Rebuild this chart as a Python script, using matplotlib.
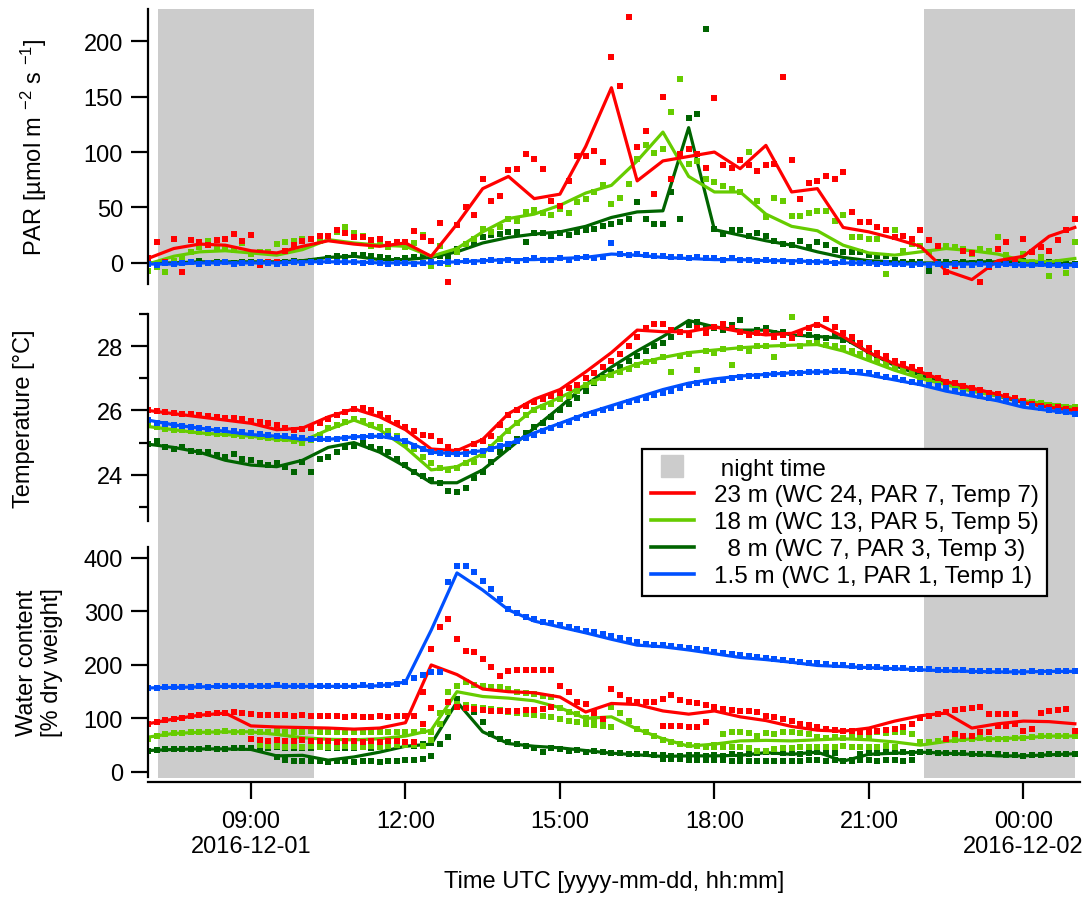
import numpy as np
import pandas as pd
import matplotlib
matplotlib.use("Agg")
import matplotlib.pyplot as plt
from matplotlib.lines import Line2D

plt.rcParams['font.family'] = ['Liberation Sans', 'DejaVu Sans']
plt.rcParams['mathtext.default'] = 'regular'

# ---- time bases: 10-min samples (dots) and 30-min means (lines)
t_pts = pd.date_range("2016-12-01 07:00", "2016-12-02 01:00", freq="10min")
t_line = pd.date_range("2016-12-01 07:00", "2016-12-02 01:00", freq="30min")

night_start = ["2016-12-01 07:12", "2016-12-01 22:04"]
night_end = ["2016-12-01 10:14", "2016-12-02 01:00"]

tick_times = ["2016-12-01 09:00", "2016-12-01 12:00", "2016-12-01 15:00",
              "2016-12-01 18:00", "2016-12-01 21:00", "2016-12-02 00:00"]
tick_labels = ["09:00\n2016-12-01", "12:00", "15:00", "18:00", "21:00", "00:00\n2016-12-02"]

labels = ["23 m (WC 24, PAR 7, Temp 7)", "18 m (WC 13, PAR 5, Temp 5)",
          "  8 m (WC 7, PAR 3, Temp 3)", "1.5 m (WC 1, PAR 1, Temp 1)"]
colors = ["#ff0000", "#66cc00", "#006400", "#0050ff"]

# ---- PAR [umol m-2 s-1]
par_red_pts = [4, 19, 1, 22, -8, 21,  19, 16, 21, 22, 26, 20,  25, -2, 1, 1, 11, 16,
               20, 22, 24, 24, 30, 27,  23, 23, 21, 22, 17, 19,  19, 29, 23, 20, 36, -17,
               34, 50, 43, 76, 56, 60,  84, 85, 98, 94, 85, 56,  51, 74, 96, 96, 101, 91,
               186, 160, 222, 105, 119, 62,  150, 76, 98, 103, 98, 86,  149, 88, 86, 93, 88, 83,
               88, 89, 168, 93, 58, 72,  74, 78, 76, 82, 46, 37,  37, 32, 30, 23, 24, 22,
               30, 21, 15, -8, -3, 11,  9, -17, -4, 13, 19, 1,  22, 10, 14, 11, 21, 30,  40]
par_lgreen_pts = [-7, -4, -8, 2, 5, 10,  14, 20, 13, 14, 12, 18,  8, 10, 10, 17, 19, 20,
                  22, 22, 20, 24, 28, 32,  27, 24, 15, 20, 14, 19,  14, 18, 25, -3, 15, -1,
                  10, 17, 22, 31, 28, 32,  40, 38, 46, 48, 45, 43,  49, 45, 55, 58, 64, 70,
                  53, 59, 71, 94, 106, 99,  103, 136, 166, 89, 92, 76,  73, 69, 67, 64, 100, 56,
                  41, 59, 56, 42, 42, 45,  47, 47, 38, 43, 23, 23,  22, 22, -10, 30, 11, 17,
                  15, 10, 14, 15, 14, 13,  8, 13, 11, 23, 7, 1,  8, 1, 5, -12, 1, -9,  19]
par_dgreen_pts = [0, -1, 1, 0, 1, 1,  2, 0, 1, 1, 0, 1,  1, 0, 0, 1, 1, 2,
                  1, 2, 3, 4, 6, 5,  7, 7, 6, 5, 4, 3,  4, 5, 6, 1, 6, 6,
                  13, 17, 18, 23, 25, 26,  28, 28, 19, 27, 27, 24,  27, 25, 28, 30, 31, 33,
                  35, 37, 40, 55, 40, 35,  35, 64, 40, 131, 134, 211,  31, 26, 30, 30, 24, 27,
                  24, 20, 17, 16, 20, 14,  19, 16, 12, 10, 10, 10,  7, 6, 6, 3, 1, 1,
                  1, -7, 1, 1, 0, 1,  0, 1, 1, 0, 1, 1,  2, 1, 0, 1, 0, 0,  -1]
par_blue_pts = [-1, -2, 0, -1, 0, 1,  -1, 0, 0, 1, -1, 0,  0, 1, 0, -1, 0, 1,
                0, 1, 1, 2, 1, 1,  1, 0, 1, 0, -1, 0,  0, -1, 0, 1, 0, 1,
                1, 2, 1, 2, 3, 2,  3, 2, 3, 4, 3, 3,  4, 3, 4, 5, 4, 5,
                18, 8, 7, 8, 7, 6,  6, 5, 5, 4, 5, 4,  4, 3, 4, 3, 3, 2,
                3, 2, 2, 1, 2, 1,  1, 1, 0, 1, 0, 0,  0, -1, 0, -1, -1, -2,
                -1, -2, -1, -2, -1, -2,  -2, -1, -2, -2, -1, -2,  -2, -2, -1, -2, -2, -3,  -2]

par_red_line = [4, 13, 17, 16, 11, 9, 15, 20, 17, 15, 18, 6, 35, 67, 78, 58, 62, 105,
                158, 74, 92, 96, 100, 85, 106, 64, 67, 32, 28, 22, 15, -7, -15, 2, 6, 24, 32]
par_lgreen_line = [-1, 6, 10, 11, 9, 7, 12, 21, 18, 16, 15, 6, 13, 28, 40, 44, 52, 63,
                   70, 92, 118, 78, 64, 64, 44, 33, 29, 16, 9, 7, 10, 13, 11, 8, 2, 1, 4]
par_dgreen_line = [0, 0, 1, 1, 1, 1, 2, 5, 6, 3, 3, 5, 10, 18, 23, 26, 28, 33,
                   41, 46, 47, 122, 30, 25, 20, 16, 10, 5, 2, 1, 0, 0, 1, 1, 1, 0, -1]
par_blue_line = [-1, -1, 0, 0, 0, 0, 1, 1, 1, 0, 0, 0, 1, 2, 3, 3, 4, 5,
                 8, 7, 5, 4, 3, 3, 2, 2, 1, 0, 0, -1, -1, -1, -1, -1, -2, -2, -2]

# ---- Temperature [degC]
tmp_red_pts = [26.02, 25.98, 25.95, 25.93, 25.90, 25.88,  25.85, 25.82, 25.80, 25.78, 25.75, 25.72,
               25.68, 25.65, 25.60, 25.55, 25.45, 25.40,  25.42, 25.45, 25.60, 25.72, 25.85, 25.95,
               26.05, 26.08, 26.00, 25.90, 25.75, 25.62,  25.50, 25.35, 25.25, 25.20, 25.05, 24.85,
               24.75, 24.70, 24.95, 25.05, 25.20, 25.55,  25.85, 26.00, 26.15, 26.25, 26.35, 26.45,
               26.55, 26.70, 26.80, 27.00, 27.15, 27.35,  27.55, 27.75, 28.00, 28.30, 28.55, 28.70,
               28.70, 28.50, 28.45, 28.35, 28.55, 28.40,  28.60, 28.70, 28.55, 28.45, 28.35, 28.40,
               28.45, 28.30, 28.35, 28.25, 28.40, 28.55,  28.65, 28.85, 28.60, 28.40, 28.30, 28.10,
               27.95, 27.80, 27.70, 27.55, 27.45, 27.35,  27.25, 27.10, 27.00, 26.90, 26.85, 26.75,
               26.70, 26.65, 26.55, 26.50, 26.45, 26.40,  26.30, 26.20, 26.15, 26.12, 26.10, 26.05,  26.02]
tmp_lgreen_pts = [25.55, 25.48, 25.42, 25.40, 25.38, 25.35,  25.33, 25.30, 25.28, 25.26, 25.25, 25.22,
                  25.20, 25.18, 25.15, 25.12, 25.10, 25.05,  25.00, 25.08, 25.25, 25.45, 25.55, 25.65,
                  25.72, 25.68, 25.55, 25.50, 25.35, 25.20,  24.95, 24.80, 24.55, 24.35, 24.20, 24.15,
                  24.20, 24.35, 24.40, 24.60, 24.85, 25.10,  25.35, 25.60, 25.85, 26.00, 26.10, 26.20,
                  26.35, 26.45, 26.60, 26.80, 26.90, 27.00,  27.10, 27.20, 27.30, 27.40, 27.50, 27.55,
                  27.65, 27.20, 27.70, 27.75, 27.25, 27.85,  27.80, 27.90, 27.40, 27.95, 27.85, 28.00,
                  28.00, 27.65, 28.05, 28.90, 28.00, 28.10,  28.10, 28.05, 28.00, 27.95, 27.85, 27.75,
                  27.65, 27.55, 27.45, 27.35, 27.25, 27.15,  27.05, 26.95, 26.90, 26.80, 26.75, 26.70,
                  26.62, 26.55, 26.50, 26.45, 26.40, 26.35,  26.30, 26.25, 26.22, 26.18, 26.15, 26.12,  26.10]
tmp_dgreen_pts = [24.95, 25.05, 24.85, 24.80, 24.85, 24.75,  24.70, 24.70, 24.60, 24.55, 24.65, 24.50,
                  24.45, 24.35, 24.30, 24.35, 24.25, 24.10,  24.40, 24.10, 24.50, 24.55, 24.70, 24.85,
                  24.90, 25.00, 24.85, 24.80, 24.70, 24.50,  24.30, 24.10, 23.95, 23.85, 23.75, 23.50,
                  23.45, 23.60, 23.90, 24.10, 24.40, 24.70,  24.85, 25.10, 25.30, 25.50, 25.60, 25.80,
                  26.00, 26.20, 26.40, 26.60, 26.85, 27.05,  27.20, 27.35, 27.55, 27.70, 27.85, 28.00,
                  28.10, 28.30, 28.45, 28.65, 28.75, 28.60,  28.55, 28.50, 28.65, 28.80, 28.45, 28.50,
                  28.55, 28.40, 28.45, 28.30, 28.40, 28.35,  28.30, 28.25, 28.35, 28.20, 28.15, 28.05,
                  27.85, 27.70, 27.55, 27.45, 27.30, 27.20,  27.10, 27.00, 26.95, 26.85, 26.80, 26.75,
                  26.68, 26.62, 26.55, 26.50, 26.45, 26.38,  26.30, 26.25, 26.18, 26.12, 26.08, 26.05,  26.02]
tmp_blue_pts = [25.70, 25.62, 25.58, 25.55, 25.52, 25.48,  25.45, 25.42, 25.40, 25.38, 25.35, 25.32,
                25.30, 25.27, 25.25, 25.22, 25.20, 25.18,  25.15, 25.12, 25.10, 25.10, 25.12, 25.14,
                25.16, 25.18, 25.20, 25.22, 25.20, 25.15,  25.05, 24.90, 24.80, 24.72, 24.68, 24.66,
                24.65, 24.66, 24.70, 24.75, 24.80, 24.88,  24.95, 25.05, 25.15, 25.25, 25.35, 25.45,
                25.55, 25.65, 25.75, 25.85, 25.92, 26.00,  26.08, 26.15, 26.25, 26.32, 26.40, 26.48,
                26.55, 26.62, 26.70, 26.78, 26.84, 26.88,  26.92, 26.96, 27.00, 27.04, 27.06, 27.08,
                27.10, 27.12, 27.14, 27.16, 27.18, 27.19,  27.20, 27.21, 27.22, 27.22, 27.21, 27.20,
                27.15, 27.10, 27.05, 27.00, 26.95, 26.90,  26.85, 26.80, 26.75, 26.70, 26.62, 26.55,
                26.50, 26.45, 26.40, 26.35, 26.30, 26.25,  26.20, 26.15, 26.08, 26.02, 25.98, 25.95,  25.90]

tmp_red_line = [26.0, 25.9, 25.8, 25.7, 25.6, 25.4, 25.45, 25.8, 26.05, 25.8, 25.4, 24.8,
                24.75, 25.1, 25.9, 26.35, 26.65, 27.2, 27.8, 28.5, 28.45, 28.45, 28.6, 28.45,
                28.35, 28.4, 28.7, 28.3, 27.8, 27.45, 27.2, 26.9, 26.7, 26.5, 26.25, 26.1, 26.0]
tmp_lgreen_line = [25.5, 25.4, 25.3, 25.25, 25.2, 25.1, 25.05, 25.4, 25.7, 25.4, 24.85, 24.15,
                   24.25, 24.65, 25.4, 26.05, 26.4, 26.8, 27.15, 27.45, 27.65, 27.8, 27.88, 27.95,
                   28.0, 28.03, 28.05, 27.85, 27.55, 27.25, 27.0, 26.8, 26.6, 26.45, 26.3, 26.2, 26.1]
tmp_dgreen_line = [24.95, 24.85, 24.7, 24.45, 24.3, 24.25, 24.45, 24.85, 25.0, 24.7, 24.25, 23.75,
                   23.75, 24.15, 24.8, 25.45, 26.1, 26.8, 27.35, 27.85, 28.3, 28.8, 28.6, 28.5,
                   28.5, 28.35, 28.3, 28.25, 27.8, 27.4, 27.1, 26.85, 26.65, 26.45, 26.25, 26.1, 26.0]
tmp_blue_line = [25.7, 25.55, 25.45, 25.35, 25.25, 25.2, 25.1, 25.1, 25.18, 25.2, 25.05, 24.7,
                 24.65, 24.75, 24.95, 25.3, 25.6, 25.9, 26.15, 26.4, 26.65, 26.85, 26.98, 27.07,
                 27.12, 27.17, 27.2, 27.2, 27.1, 26.95, 26.8, 26.6, 26.45, 26.3, 26.1, 26.0, 25.9]

# ---- Water content [% dry weight]; two dot bands where the sensors diverge
N = None
wc_red_pts = [90, 94, 97, 99, 101, 104,  106, 108, 110, 111, 112, 110,  108, 107, 106, 107, 106, 105,
              106, 105, 104, 105, 104, 103,  104, 103, 103, 104, 103, 104,  105, 104, 150, 230, 270, 286,
              249, 226, 224, 211, 196, 180,  189, 190, 190, 191, 190, 191,  161, 150, 131, 127, 110, 99,
              155, 143, 135, 131, 131, 131,  137, 143, 135, 131, 128, 125,  122, 118, 116, 114, 114, 112,
              105, 102, 99, 95, 90, 88,  84, 80, 78, 77, 76, 75,  75, 76, 78, 80, 84, 90,
              100, 105, 108, 112, 115, 118,  120, 121, 108, 108, 108, 108,  77, 80, 110, 114, 116, 118,  77]
wc_red_pts2 = [N, N, N, N, N, N,  N, N, N, N, N, N,  62, 60, 58, 60, 58, 57,
               60, 58, 57, 58, 56, 58,  57, 55, 58, 56, 57, 58,  56, 56, 90, 120, N, 131,
               122, 120, 118, 116, 114, 114,  114, 113, 115, 116, 118, 121,  N, N, N, N, N, N,
               N, N, N, N, N, N,  86, 86, 85, 84, 84, 93,  N, N, N, N, N, N,
               N, N, N, N, N, N,  N, N, N, N, N, N,  N, N, N, N, N, N,
               N, N, N, 62, 71, 67,  67, 75, 75, 86, 86, 90,  N, N, N, N, N, N,  N]
wc_lgreen_pts = [62, 68, 70, 72, 73, 74,  74, 75, 75, 76, 75, 75,  75, 74, 75, 76, 75, 75,
                 75, 76, 75, 74, 75, 75,  74, 75, 75, 74, 75, 74,  75, 74, 76, 75, 110, 150,
                 161, 168, 163, 161, 159, 158,  155, 150, 148, 145, 142, 140,  120, 112, 108, 100, 98, 95,
                 122, 110, 95, 80, 74, 67,  60, 56, 52, 50, 48, 47,  50, 71, 75, 74, 72, 67,
                 72, 71, 74, 75, 72, 70,  66, 64, 65, 63, 66, 65,  66, 75, 72, 74, 75, 71,
                 55, 56, 58, 60, 60, 62,  62, 63, 62, 61, 62, 63,  64, 66, 67, 67, 67, 68,  67]
wc_lgreen_pts2 = [N, N, N, N, N, N,  N, N, N, N, N, N,  N, 50, 49, 48, 47, 48,
                  47, 48, 47, 46, 47, 48,  47, 46, 48, 47, 48, 50,  50, 50, 48, 60, 90, 112,
                  127, 125, 122, 120, 118, 116,  112, 110, 108, 106, 105, 103,  99, 96, 93, 90, 88, 86,
                  84, N, N, N, N, N,  N, N, N, N, N, N,  47, 47, 46, 47, 45, 39,
                  40, 42, 44, 45, 47, 47,  47, 46, 47, 48, 47, 47,  47, 47, 48, 46, N, N,
                  N, N, N, N, N, N,  N, N, N, N, N, N,  N, N, N, N, N, N,  N]
wc_dgreen_pts = [40, 41, 42, 42, 43, 43,  43, 44, 43, 43, 44, 44,  45, 44, 45, 46, 45, 45,
                 45, 44, 46, 45, 45, 44,  45, 46, 45, 47, 48, 49,  50, 49, 52, 54, 52, 65,
                 136, 123, 112, 93, 71, 62,  56, 52, 48, 45, 37, 44,  42, 40, 41, 38, 39, 37,
                 36, 35, 34, 33, 33, 32,  31, 30, 30, 32, 31, 30,  31, 30, 33, 32, 34, 36,
                 38, 37, 35, 36, 34, 36,  37, 38, 36, 20, 22, 33,  35, 36, 37, 38, 37, 36,
                 38, 37, 36, 35, 36, 35,  34, 33, 34, 33, 32, 31,  30, 31, 32, 33, 33, 34,  34]
wc_dgreen_pts2 = [N, N, N, N, N, N,  N, N, N, N, N, N,  N, N, N, 28, 22, 21,
                  21, 20, 20, 19, 20, 20,  19, 20, 20, 19, 20, 21,  22, 22, 24, 30, N, N,
                  N, N, N, N, N, N,  N, N, N, N, N, N,  N, N, N, N, N, N,
                  N, N, N, N, N, N,  25, 24, 24, 23, 23, 22,  22, 22, 21, 21, 20, 20,
                  21, 20, 21, 20, 21, 22,  22, 21, 22, 20, 21, 22,  22, 21, 22, 22, 21, 22,
                  N, N, N, N, N, N,  N, N, N, N, N, N,  N, N, N, N, N, N,  N]
wc_blue_pts = [156, 157, 158, 158, 159, 159,  160, 159, 160, 160, 161, 160,  160, 161, 160, 162, 160, 161,
               161, 160, 161, 160, 161, 161,  161, 162, 161, 162, 163, 164,  168, 175, 182, 186, 187, 355,
               385, 385, 374, 357, 342, 323,  305, 298, 290, 285, 281, 278,  274, 270, 267, 264, 261, 258,
               254, 250, 246, 243, 240, 238,  237, 235, 234, 232, 229, 227,  225, 223, 221, 219, 217, 215,
               213, 211, 209, 207, 206, 204,  203, 201, 200, 199, 198, 197,  197, 196, 195, 195, 194, 193,
               193, 192, 191, 191, 190, 190,  189, 189, 188, 188, 188, 187,  187, 188, 187, 187, 188, 188,  188]

wc_red_line = [90, 99, 106, 110, 86, 84, 83, 82, 80, 82, 92, 200, 182, 155, 150, 148, 140, 112,
               128, 126, 114, 108, 114, 103, 96, 85, 78, 76, 82, 95, 105, 110, 82, 90, 95, 94, 90]
wc_lgreen_line = [65, 72, 74, 75, 75, 70, 64, 61, 60, 62, 67, 78, 150, 141, 138, 133, 120, 100,
                  103, 80, 62, 48, 52, 58, 59, 58, 60, 62, 60, 56, 50, 57, 62, 62, 64, 67, 67]
wc_dgreen_line = [40, 42, 43, 43, 42, 30, 31, 22, 28, 37, 48, 52, 131, 75, 53, 48, 45, 40,
                  35, 32, 29, 30, 30, 31, 36, 33, 37, 20, 33, 35, 37, 35, 33, 30, 30, 32, 34]
wc_blue_line = [157, 158, 159, 160, 160, 160, 160, 160, 160, 161, 168, 265, 372, 340, 303, 282, 271, 260,
                248, 237, 234, 228, 221, 214, 210, 205, 199, 197, 195, 193, 191, 189, 188, 187, 187, 188, 188]


def f(v):
    return np.array([np.nan if x is None else x for x in v], dtype=float)


W, H = 1091, 904
def box(x0, y0, x1, y1):
    # pixel box (top-left origin) -> figure fraction rect
    return [x0 / W, 1 - y1 / H, (x1 - x0) / W, (y1 - y0) / H]

FS = 17

fig = plt.figure(figsize=(W / 100, H / 100), dpi=100)
bg = fig.add_axes(box(148, 10, 1080, 779))
ax_par = fig.add_axes(box(148, 10, 1080, 285), sharex=bg)
ax_tmp = fig.add_axes(box(148, 315, 1080, 522), sharex=bg)
ax_wc = fig.add_axes(box(148, 548, 1080, 778), sharex=bg)

# night shading across all panels
for s, e in zip(night_start, night_end):
    bg.axvspan(pd.Timestamp(s), pd.Timestamp(e), color="#cccccc", lw=0)
bg.set_ylim(0, 1)
bg.axis("off")
bg.set_xlim(pd.Timestamp("2016-12-01 07:00"), pd.Timestamp("2016-12-02 01:06"))

ms = 4.0
lw = 2.3

def draw(ax, pts, line, col, pts2=None):
    ax.plot(t_pts, f(pts), "s", ms=ms, mew=0, color=col, ls="none")
    if pts2 is not None:
        ax.plot(t_pts, f(pts2), "s", ms=ms, mew=0, color=col, ls="none")
    ax.plot(t_line, f(line), "-", lw=lw, color=col)

# draw order: dark green, light green, red, blue
draw(ax_par, par_dgreen_pts, par_dgreen_line, colors[2])
draw(ax_par, par_lgreen_pts, par_lgreen_line, colors[1])
draw(ax_par, par_red_pts, par_red_line, colors[0])
draw(ax_par, par_blue_pts, par_blue_line, colors[3])

draw(ax_tmp, tmp_dgreen_pts, tmp_dgreen_line, colors[2])
draw(ax_tmp, tmp_lgreen_pts, tmp_lgreen_line, colors[1])
draw(ax_tmp, tmp_red_pts, tmp_red_line, colors[0])
draw(ax_tmp, tmp_blue_pts, tmp_blue_line, colors[3])

draw(ax_wc, wc_dgreen_pts, wc_dgreen_line, colors[2], wc_dgreen_pts2)
draw(ax_wc, wc_lgreen_pts, wc_lgreen_line, colors[1], wc_lgreen_pts2)
draw(ax_wc, wc_red_pts, wc_red_line, colors[0], wc_red_pts2)
draw(ax_wc, wc_blue_pts, wc_blue_line, colors[3])

ax_par.set_ylim(-19, 229)
ax_par.set_yticks([0, 50, 100, 150, 200])
ax_tmp.set_ylim(22.56, 29.001)
ax_tmp.set_yticks([24, 26, 28])
ax_tmp.set_yticks([23, 25, 27, 29], minor=True)
ax_wc.set_ylim(-9.5, 420.5)
ax_wc.set_yticks([0, 100, 200, 300, 400])

for ax in (ax_par, ax_tmp, ax_wc):
    ax.patch.set_visible(False)
    ax.spines["top"].set_visible(False)
    ax.spines["right"].set_visible(False)
    ax.spines["left"].set_linewidth(1.6)
    ax.spines["bottom"].set_linewidth(1.6)
    ax.tick_params(axis="y", which="major", direction="out", length=12, width=1.6,
                   labelsize=FS, pad=6)
    ax.tick_params(axis="y", which="minor", direction="out", length=6.5, width=1.6)

for ax in (ax_par, ax_tmp):
    ax.spines["bottom"].set_visible(False)
    ax.tick_params(axis="x", which="both", bottom=False, labelbottom=False)

ax_wc.spines["bottom"].set_position(("outward", 3.5))
ax_wc.set_xticks(pd.to_datetime(tick_times), labels=tick_labels)
ax_wc.tick_params(axis="x", which="major", direction="out", length=12, width=1.6,
                  labelsize=FS, pad=8)
ax_wc.tick_params(axis="x", which="minor", bottom=False)

ax_par.set_ylabel("PAR [µmol m $^{-2}$ s $^{-1}$]", fontsize=FS)
ax_par.yaxis.set_label_coords(-0.106, 0.5)
ax_tmp.set_ylabel("Temperature [°C]", fontsize=FS)
ax_tmp.yaxis.set_label_coords(-0.121, 0.5)
ax_wc.set_ylabel("Water content\n[% dry weight]", fontsize=FS, multialignment="center")
ax_wc.yaxis.set_label_coords(-0.091, 0.5)
ax_wc.set_xlabel("Time UTC [yyyy-mm-dd, hh:mm]", fontsize=FS)
ax_wc.xaxis.set_label_coords(0.5, -0.405)

handles = [Line2D([], [], marker="s", ms=16.5, color="#cccccc", ls="none")]
handles += [Line2D([], [], color=c, lw=2.6) for c in colors]
leg = fig.legend(handles, [" night time"] + labels, loc="upper left",
                 bbox_to_anchor=(642 / W, 1 - 450 / H), fontsize=17.5, frameon=True,
                 fancybox=False, framealpha=1, edgecolor="black", handlelength=1.8,
                 handletextpad=0.8, labelspacing=0.2, borderpad=0.35, borderaxespad=0)
leg.get_frame().set_linewidth(1.6)

fig.savefig("out.png", dpi=100)
